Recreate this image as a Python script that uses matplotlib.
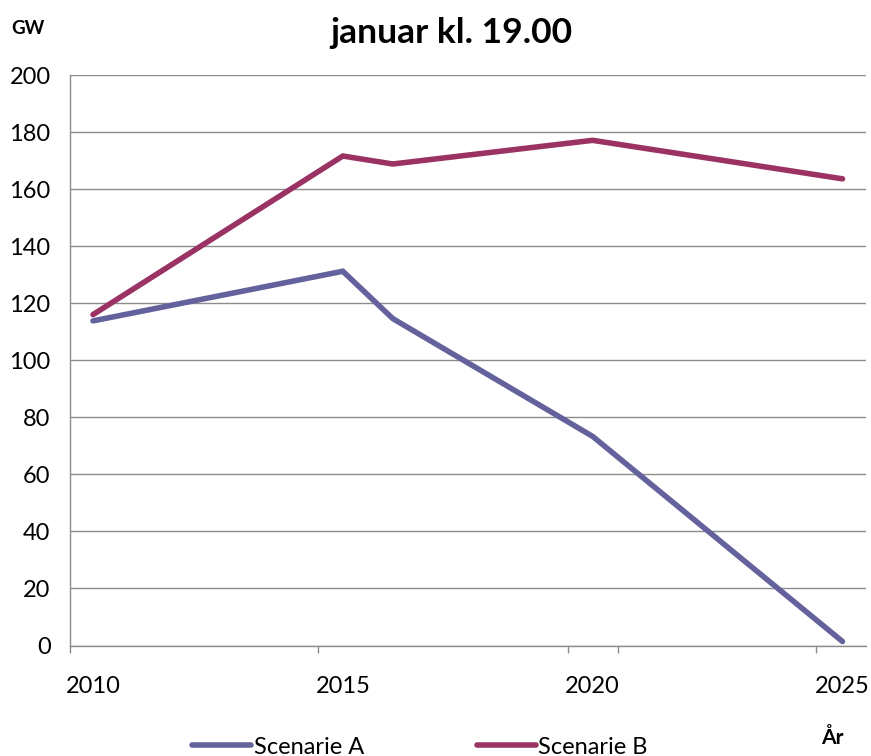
import matplotlib
matplotlib.use('Agg')
import matplotlib.pyplot as plt

plt.rcParams['font.family'] = ['Lato', 'DejaVu Sans']

# data
years = [2010, 2015, 2016, 2020, 2025]
scenario_a = [113.8, 131.2, 114.6, 73.3, 1.4]
scenario_b = [116.0, 171.6, 168.8, 177.1, 163.6]
series_names = ['Scenarie A', 'Scenarie B']
series_colors = ['#64629C', '#9B3264']
year_labels = ['2010', '2015', '2020', '2025']
year_ticks = [2010, 2015, 2020, 2025]
y_ticks = list(range(0, 201, 20))

grid_col = '#8C8C8C'

fig = plt.figure(figsize=(8.71, 7.56), dpi=100)
ax = fig.add_axes([70 / 871, 1 - 645.5 / 756, 796 / 871, 570.5 / 756])

for vals, name, col in zip([scenario_a, scenario_b], series_names, series_colors):
    ax.plot(years, vals, color=col, lw=4, label=name,
            solid_capstyle='round', solid_joinstyle='miter', zorder=3)

ax.set_xlim(2009.54, 2025.47)
ax.set_ylim(0, 200)
ax.set_yticks(y_ticks)
ax.set_yticklabels([str(v) for v in y_ticks], fontsize=17)
ax.tick_params(axis='y', length=0, pad=14)

ax.set_xticks(year_ticks)
ax.set_xticklabels(year_labels, fontsize=17)
ax.set_xticks([2009.54, 2014.5, 2019.5, 2020.5, 2024.46], minor=True)
ax.tick_params(axis='x', which='major', length=0, pad=22)
ax.tick_params(axis='x', which='minor', length=5, width=1, color=grid_col)

ax.yaxis.grid(True, color=grid_col, lw=1)
ax.set_axisbelow(True)
for s in ['top', 'right']:
    ax.spines[s].set_visible(False)
for s in ['left', 'bottom']:
    ax.spines[s].set_color(grid_col)
    ax.spines[s].set_linewidth(1)

fig.text(451 / 871, 1 - 33 / 756, 'januar kl. 19.00', ha='center', va='center',
         fontsize=25.5, fontweight='bold')
fig.text(28 / 871, 1 - 28 / 756, 'GW', ha='center', va='center',
         fontsize=13.5, fontweight='bold')
fig.text(832 / 871, 1 - 738 / 756, 'År', ha='center', va='center',
         fontsize=15, fontweight='bold')

fig.legend(loc='center', bbox_to_anchor=(420 / 871, 1 - 747 / 756), ncol=2,
           frameon=False, fontsize=17, handlelength=2.5, handletextpad=0.1,
           columnspacing=4.8, borderpad=0)

fig.savefig('out.png', dpi=100)
